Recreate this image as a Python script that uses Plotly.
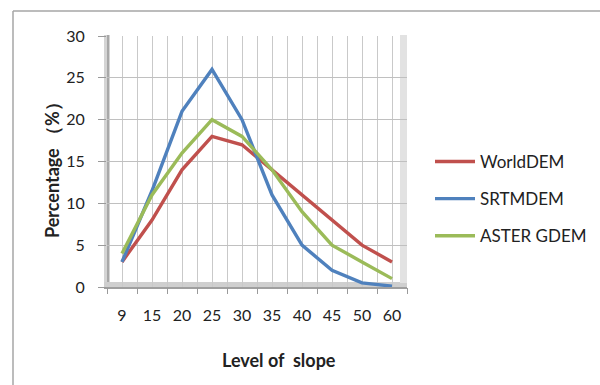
import plotly.graph_objects as go

categories = ["9", "15", "20", "25", "30", "35", "40", "45", "50", "60"]
world_dem = [3, 8, 14, 18, 17, 14, 11, 8, 5, 3]
srtm_dem = [3, 11.5, 21, 26, 20, 11, 5, 2, 0.5, 0.1]
aster_gdem = [4, 11, 16, 20, 18, 14, 9, 5, 3, 1]
series_names = ["WorldDEM", "SRTMDEM", "ASTER GDEM"]
series_colors = ["#C0504D", "#4F81BD", "#9BBB59"]
y_ticks = [0, 5, 10, 15, 20, 25, 30]

xpos = list(range(len(categories)))
FONT = "Lato, 'Noto Sans', sans-serif"

# pixel geometry of the plot area
L, R, T, B = 107, 407, 36, 287
W, H = 600, 385


def px(x):
    return (x - L) / (R - L)


def py(y):
    return (B - y) / (B - T)


fig = go.Figure()
for name, vals, col in zip(series_names, [world_dem, srtm_dem, aster_gdem], series_colors):
    fig.add_trace(go.Scatter(
        x=xpos, y=vals, mode="lines", name=name, legendgroup=name,
        line=dict(color=col, width=3.4), cliponaxis=False,
    ))

shapes = []
# outer chart border (top and left)
shapes.append(dict(type="line", xref="paper", yref="paper", x0=px(13), x1=px(600), y0=py(11), y1=py(11),
                   line=dict(color="#a6a6a6", width=1.5)))
shapes.append(dict(type="line", xref="paper", yref="paper", x0=px(13), x1=px(13), y0=py(11), y1=py(385),
                   line=dict(color="#a6a6a6", width=1.5)))
# 3D walls: left wall, floor, right edge
shapes.append(dict(type="rect", xref="paper", yref="paper", x0=px(104), x1=px(110), y0=py(289), y1=py(35),
                   fillcolor="#d4d4d4", line=dict(width=0), layer="below"))
shapes.append(dict(type="line", xref="paper", yref="paper", x0=px(108), x1=px(108), y0=py(289), y1=py(35),
                   line=dict(color="#9a9a9a", width=1.5), layer="below"))
shapes.append(dict(type="rect", xref="paper", yref="paper", x0=px(104), x1=px(407), y0=py(289), y1=py(282),
                   fillcolor="#cfcfcf", line=dict(width=0), layer="below"))
shapes.append(dict(type="line", xref="paper", yref="paper", x0=px(104), x1=px(407), y0=py(288), y1=py(288),
                   line=dict(color="#8f8f8f", width=1.5), layer="below"))
shapes.append(dict(type="rect", xref="paper", yref="paper", x0=px(400), x1=px(407), y0=py(283), y1=py(35),
                   fillcolor="#e2e2e2", line=dict(width=0), layer="below"))

fig.update_layout(
    width=W, height=H,
    margin=dict(l=L, r=W - R, t=T, b=H - B, pad=0, autoexpand=False),
    paper_bgcolor="white", plot_bgcolor="white",
    font=dict(family=FONT, size=16, color="#222222"),
    showlegend=True,
    legend=dict(x=px(430), y=py(144), xanchor="left", yanchor="top",
                font=dict(family=FONT, size=17, color="#222222"),
                tracegroupgap=12, bgcolor="rgba(0,0,0,0)", itemwidth=40),
    shapes=shapes,
    xaxis=dict(
        range=[-0.5, len(categories) - 0.5],
        tickmode="array", tickvals=xpos, ticktext=categories,
        ticks="", showgrid=True, gridcolor="#c9c9c9", gridwidth=1,
        showline=False, zeroline=False, ticklabelstandoff=17,
        tickfont=dict(family=FONT, size=16, color="#222222"),
        minor=dict(tickvals=[i - 0.5 for i in range(len(categories) + 1)],
                   ticks="outside", ticklen=6, tickcolor="#9a9a9a", tickwidth=1,
                   showgrid=True, gridcolor="#c9c9c9", gridwidth=1),
        fixedrange=True,
    ),
    yaxis=dict(
        range=[0, 30], tickmode="array", tickvals=y_ticks,
        ticks="outside", ticklen=8, tickcolor="#9a9a9a",
        showgrid=True, gridcolor="#c0c0c0", gridwidth=1,
        showline=False, zeroline=False, ticklabelstandoff=10,
        tickfont=dict(family=FONT, size=16, color="#222222"),
        fixedrange=True,
    ),
    annotations=[
        dict(text="<b>Percentage （%）</b>", xref="paper", yref="paper", x=px(52), y=py(166),
             xanchor="center", yanchor="middle", textangle=-90, showarrow=False,
             font=dict(family=FONT, size=18, color="#222222")),
        dict(text="<b>Level of  slope</b>", xref="paper", yref="paper", x=px(279), y=py(360),
             xanchor="center", yanchor="middle", showarrow=False,
             font=dict(family=FONT, size=18, color="#222222")),
    ],
)

fig.write_html("out.html")
